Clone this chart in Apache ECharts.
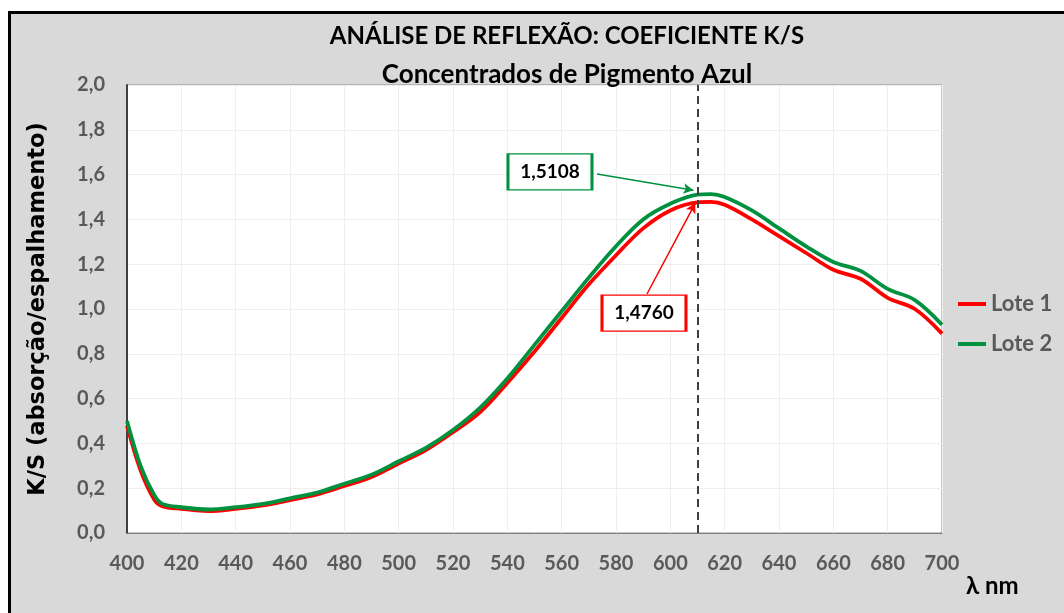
<!DOCTYPE html>
<html>
<head>
<meta charset="utf-8">
<script src="https://cdn.jsdelivr.net/npm/echarts@6/dist/echarts.min.js"></script>
<style>
  html, body { margin: 0; padding: 0; background: #ffffff; overflow: hidden; }
  #frame {
    position: absolute; left: 8px; top: 11px; width: 1100px; height: 700px;
    background: #d9d9d9; border-left: 3px solid #000; border-top: 3px solid #000;
  }
  #main { position: absolute; left: 0; top: 0; width: 1064px; height: 613px; }
</style>
</head>
<body>
<div id="frame"></div>
<div id="main"></div>
<script>
// comprimento de onda (nm)
var lambdas = [400, 405, 410, 413, 420, 430, 440, 450, 460, 470, 480, 490, 500, 510, 520, 530, 540, 550,
  560, 570, 580, 590, 600, 610, 615, 620, 630, 640, 650, 660, 670, 680, 690, 700]
var lote1 = [0.48, 0.28, 0.15, 0.12, 0.108, 0.098, 0.108, 0.123, 0.147, 0.172, 0.21, 0.25, 0.31, 0.37, 0.45,
  0.54, 0.67, 0.81, 0.96, 1.11, 1.24, 1.36, 1.44, 1.476, 1.478, 1.465, 1.40, 1.325, 1.25, 1.175, 1.135,
  1.05, 1.00, 0.89]
var lote2 = [0.50, 0.30, 0.17, 0.13, 0.115, 0.105, 0.115, 0.13, 0.155, 0.18, 0.22, 0.26, 0.32, 0.38, 0.46,
  0.56, 0.69, 0.84, 0.99, 1.14, 1.28, 1.40, 1.47, 1.5108, 1.513, 1.50, 1.44, 1.36, 1.28, 1.21, 1.17,
  1.09, 1.04, 0.93]

var marcaLambda = 610
// anotações: caixa [lambda, K/S] e seta de -> para
var caixaLote2 = [555.7, 1.612]
var setaLote2 = [[573, 1.603], [608.5, 1.53]]
var caixaLote1 = [590.3, 0.982]
var setaLote1 = [[591.4, 1.067], [609.2, 1.473]]

var VERMELHO = '#ff0000'
var VERDE = '#00913f'
var CINZA = '#595959'
var FONTE = 'Lato, "Open Sans", sans-serif'

function virgula(v) {
  return v.toFixed(1).replace('.', ',')
}
function pares(ys) {
  return lambdas.map(function (x, i) { return [x, ys[i]] })
}
function anotacao(caixa, seta, texto, cor) {
  return {
    markPoint: {
      silent: true,
      symbol: 'rect',
      symbolSize: [84, 36],
      itemStyle: { color: '#fff', borderColor: cor, borderWidth: 2 },
      label: {
        show: true, position: 'inside', formatter: texto,
        color: '#000', fontWeight: 'bold', fontSize: 19, fontFamily: FONTE
      },
      data: [{ coord: caixa }]
    },
    markLine: {
      silent: true,
      symbol: ['none', 'arrow'],
      symbolSize: [8, 10],
      lineStyle: { color: cor, width: 1.5, type: 'solid' },
      label: { show: false },
      data: [[{ coord: seta[0] }, { coord: seta[1] }]]
    }
  }
}

var chart = echarts.init(document.getElementById('main'))

var s1 = {
  name: 'Lote 1', type: 'line', smooth: 0.35, symbol: 'none',
  data: pares(lote1), z: 3,
  lineStyle: { color: VERMELHO, width: 3.8 }, itemStyle: { color: VERMELHO }
}
var s2 = {
  name: 'Lote 2', type: 'line', smooth: 0.35, symbol: 'none',
  data: pares(lote2), z: 4,
  lineStyle: { color: VERDE, width: 3.8 }, itemStyle: { color: VERDE }
}
Object.assign(s1, anotacao(caixaLote1, setaLote1, '1,4760', VERMELHO))
var a2 = anotacao(caixaLote2, setaLote2, '1,5108', VERDE)
s2.markPoint = a2.markPoint
s2.markLine = a2.markLine
// linha tracejada vertical em 610 nm
var s3 = {
  name: 'marca', type: 'line', data: [], silent: true,
  markLine: {
    silent: true,
    symbol: ['none', 'none'],
    label: { show: false },
    lineStyle: { color: '#404040', width: 2, type: [8, 5] },
    data: [{ xAxis: marcaLambda }]
  }
}

chart.setOption({
  animation: false,
  backgroundColor: 'transparent',
  title: [
    {
      text: 'ANÁLISE DE REFLEXÃO: COEFICIENTE K/S',
      left: 562, top: 19, textAlign: 'center',
      textStyle: { fontSize: 24, fontWeight: 'bold', color: '#000', fontFamily: FONTE }
    },
    {
      text: 'Concentrados de Pigmento Azul',
      left: 562, top: 57, textAlign: 'center',
      textStyle: { fontSize: 26, fontWeight: 'bold', color: '#000', fontFamily: FONTE }
    }
  ],
  legend: {
    orient: 'vertical', left: 953, top: 288, itemGap: 18,
    itemWidth: 28, itemHeight: 4, icon: 'rect',
    data: ['Lote 1', 'Lote 2'],
    textStyle: { fontSize: 22, fontWeight: 'bold', color: CINZA, fontFamily: FONTE }
  },
  graphic: [{
    type: 'text', left: 966, top: 574,
    style: { text: 'λ nm', fontSize: 24, fontWeight: 'bold', fill: '#000', fontFamily: FONTE }
  }],
  grid: { left: 127, right: 122, top: 85, bottom: 80, show: true, outerBoundsMode: 'none',
    backgroundColor: '#fff', borderColor: '#8c8c8c', borderWidth: 1 },
  xAxis: {
    type: 'value', min: 400, max: 700, interval: 20,
    axisLine: { show: true, lineStyle: { color: '#7f7f7f', width: 1 } },
    axisTick: { show: false },
    axisLabel: { margin: 21, fontSize: 20, fontWeight: 'bold', color: CINZA, fontFamily: FONTE },
    splitLine: { show: true, lineStyle: { color: '#eeeeee', width: 1 } }
  },
  yAxis: {
    type: 'value', min: 0, max: 2, interval: 0.2,
    name: 'K/S (absorção/espalhamento)', nameLocation: 'middle', nameGap: 77,
    nameTextStyle: { fontSize: 22.5, fontWeight: 'bold', color: '#000',
      fontFamily: '"DejaVu Sans", sans-serif' },
    axisLine: { show: true, lineStyle: { color: '#404040', width: 2 } },
    axisTick: { show: false },
    axisLabel: { margin: 22, fontSize: 20, fontWeight: 'bold', color: CINZA, fontFamily: FONTE,
      formatter: virgula },
    splitLine: { show: true, lineStyle: { color: '#eeeeee', width: 1 } }
  },
  series: [s1, s2, s3]
})
</script>
</body>
</html>
